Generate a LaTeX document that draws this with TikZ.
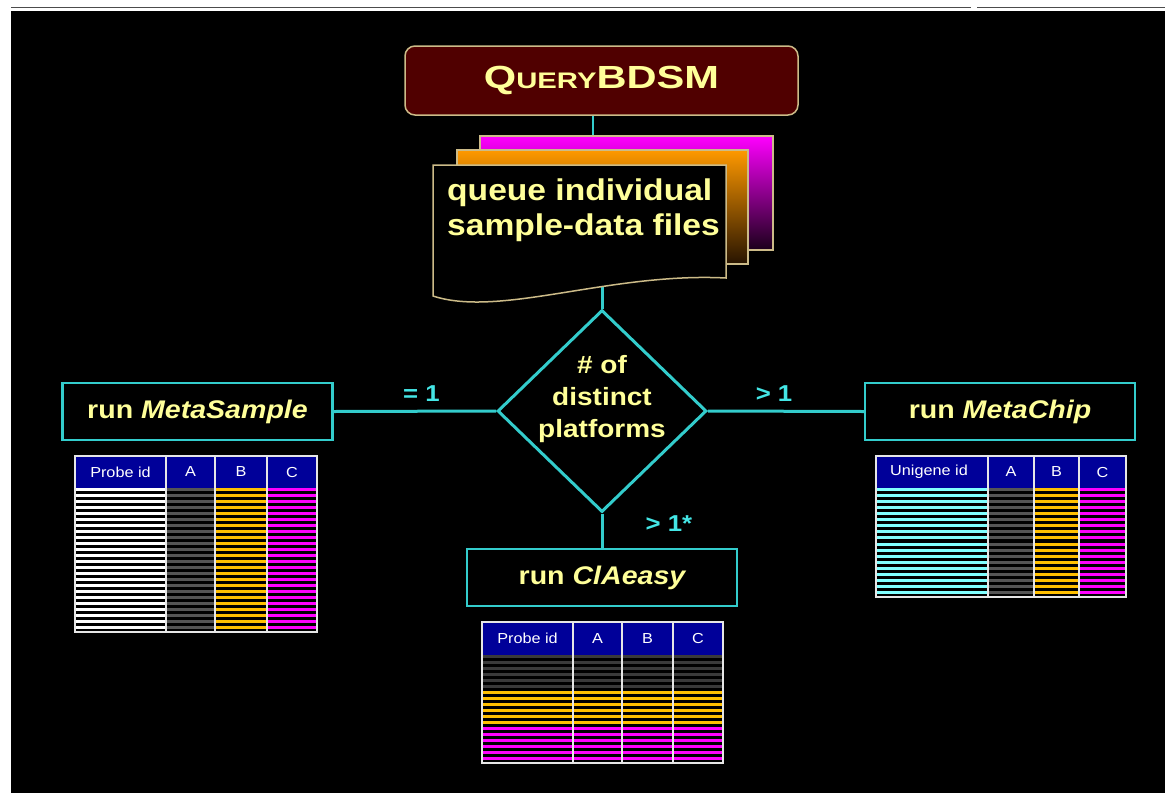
\documentclass[tikz,border=0pt]{standalone}
\usepackage{fontspec}
\setmainfont{Liberation Sans}[FakeStretch=1.12]
\newfontfamily\titlefont{Liberation Sans}[FakeStretch=1.3]
\usetikzlibrary{shapes.geometric}
\definecolor{cyanline}{HTML}{33CCCC}
\definecolor{cyanlbl}{HTML}{44E6E6}
\definecolor{yellowtxt}{HTML}{FFFF99}
\definecolor{tanline}{HTML}{CCBB88}
\definecolor{maroon}{HTML}{500000}
\definecolor{hdrblue}{HTML}{000099}
\definecolor{gridc}{HTML}{E6E6E6}
\definecolor{stgray}{HTML}{555555}
\definecolor{stdgray}{HTML}{3A3A3A}
\definecolor{storange}{HTML}{FFBF00}
\definecolor{stmag}{HTML}{FF00FF}
\definecolor{stcyan}{HTML}{80FFFF}
\begin{document}
\begin{tikzpicture}[x=1pt,y=-1pt,
  conn/.style={draw=cyanline, line width=3},
  runbox/.style={draw=cyanline, line width=2.5, fill=black, minimum width=270, minimum height=57, inner sep=0, text=yellowtxt, font=\fontsize{25.5}{30}\selectfont\bfseries},
  lbl/.style={text=cyanlbl, font=\fontsize{23}{23}\selectfont\bfseries, inner sep=0},
  hdr/.style={text=white, font=\fontsize{14.5}{14.5}\selectfont, inner sep=0},
  ytext/.style={text=yellowtxt, inner sep=0},
  grid/.style={draw=gridc, line width=1.5},
  layer/.style={inner sep=0, minimum width=293, minimum height=114}
]
\useasboundingbox (0,0) rectangle (1165,793);
\fill[white] (0,0) rectangle (1165,793);
\fill[black] (11,11) rectangle (1165,793);
\draw[black!70, line width=1.5] (11,7.5) -- (971,7.5) (977,7.5) -- (1165,7.5);

% title
\node[draw=tanline, line width=1.5, fill=maroon, rounded corners=10, minimum width=393, minimum height=69, inner sep=0, text=yellowtxt, font=\titlefont\bfseries] (title) at (601.5,80.5)
  {\fontsize{32}{32}\selectfont Q\fontsize{22.5}{22.5}\selectfont UERY\fontsize{32}{32}\selectfont BDSM};

% document stack
\node[layer] (mag) at (626.5,193) {};
\node[layer, minimum width=291] (ora) at (602.5,207) {};
\draw[conn, line width=2] ([xshift=-8.5pt]title.south) -- ([xshift=-33.5pt]mag.north);
\shadedraw[top color=stmag, middle color=stmag!75!black, bottom color=stmag!10!black, draw=tanline, line width=1.5] (mag.north west) rectangle (mag.south east);
\shadedraw[top color=orange!80!yellow, middle color=orange!70!black, bottom color=orange!15!black, draw=tanline, line width=1.5] (ora.north west) rectangle (ora.south east);
\coordinate (docb) at (602,287);
\node[diamond, draw=cyanline, line width=3, fill=black, minimum width=209, minimum height=202, inner sep=0] (dia) at (602,411) {};
\draw[conn] (docb) -- (dia.north);
\filldraw[fill=black, draw=tanline, line width=1.5] (433,165) -- (726,165) -- (726,278) .. controls (610,272) and (500,318) .. (433,296) -- cycle;
\node[ytext, anchor=base west, font=\fontsize{30}{35}\selectfont\bfseries] (docl1) at (447,200) {queue individual};
\node[ytext, anchor=base west, font=\fontsize{30}{35}\selectfont\bfseries] (docl2) at (447,235) {sample-data files};

% decision text
\node[ytext, align=center, font=\fontsize{25}{32}\selectfont\bfseries] (diatext) at (602,399) {\# of\\distinct\\platforms};

% run boxes
\node[runbox] (ms) at (197.5,411.5) {run \itshape MetaSample};
\node[runbox] (mc) at (1000,411.5) {run \itshape MetaChip};
\node[runbox] (cl) at (602,577.5) {run \itshape ClAeasy};

\draw[conn] (ms.east) -- node[lbl, pos=.54, yshift=17.5pt] (l1) {= 1} (dia.west);
\draw[conn] (dia.east) -- node[lbl, pos=.424, yshift=17.5pt] (l2) {> 1} (mc.west);
\draw[conn] (dia.south) -- node[lbl, pos=.3, xshift=67pt] (l3) {> 1*} (cl.north);

% MetaSample table
\fill[hdrblue] (75,456) rectangle (317,488);
\foreach \i in {0,...,23} {
  \fill[white] (75,488+6*\i) rectangle (166,491+6*\i);
  \fill[stgray] (166,488+6*\i) rectangle (215,491+6*\i);
  \fill[storange] (215,488+6*\i) rectangle (267,491+6*\i);
  \fill[stmag] (267,488+6*\i) rectangle (317,491+6*\i);
}
\draw[grid] (75,456) rectangle (317,632);
\draw[grid] (166,456) -- (166,632) (215,456) -- (215,632) (267,456) -- (267,632);
\node[hdr] (msh1) at (120.5,472) {Probe id};
\node[hdr] (msh2) at (190.5,472) {A};
\node[hdr] (msh3) at (241,472) {B};
\node[hdr] (msh4) at (292,472) {C};

% MetaChip table
\fill[hdrblue] (876,456) rectangle (1126,488);
\foreach \i in {0,...,17} {
  \fill[stcyan] (876,488+6.055*\i) rectangle (988,491+6.055*\i);
  \fill[stgray] (988,488+6.055*\i) rectangle (1034,491+6.055*\i);
  \fill[storange] (1034,488+6.055*\i) rectangle (1079,491+6.055*\i);
  \fill[stmag] (1079,488+6.055*\i) rectangle (1126,491+6.055*\i);
}
\draw[grid] (876,456) rectangle (1126,597);
\draw[grid] (988,456) -- (988,597) (1034,456) -- (1034,597) (1079,456) -- (1079,597);
\node[hdr] (mch1) at (929,472) {Unigene id};
\node[hdr] (mch2) at (1011,472) {A};
\node[hdr] (mch3) at (1056.5,472) {B};
\node[hdr] (mch4) at (1102.5,472) {C};

% ClAeasy table
\fill[hdrblue] (482,622) rectangle (723,655);
\foreach \i in {0,...,5} {
  \fill[stdgray] (482,655+6*\i) rectangle (723,658+6*\i);
  \fill[storange] (482,691+6*\i) rectangle (723,694+6*\i);
  \fill[stmag] (482,727+6*\i) rectangle (723,730+6*\i);
}
\draw[grid] (482,622) rectangle (723,763);
\draw[grid] (573,622) -- (573,763) (622,622) -- (622,763) (673,622) -- (673,763);
\node[hdr] (clh1) at (527.5,638.5) {Probe id};
\node[hdr] (clh2) at (597.5,638.5) {A};
\node[hdr] (clh3) at (647.5,638.5) {B};
\node[hdr] (clh4) at (698,638.5) {C};
\end{tikzpicture}
\end{document}
